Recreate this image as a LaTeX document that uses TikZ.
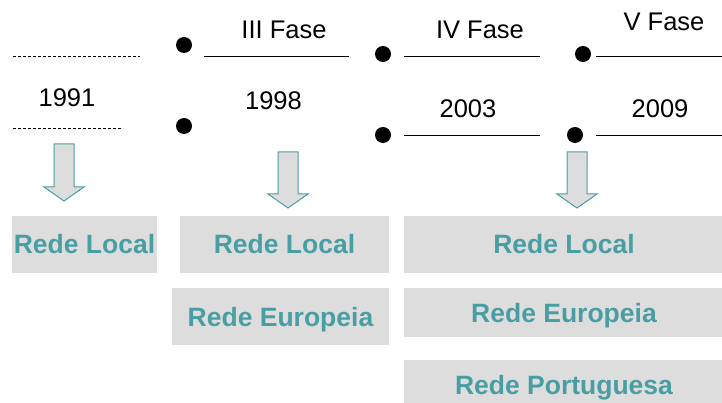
\documentclass[tikz,border=0pt]{standalone}
\usepackage{fontspec}
\setmainfont{Liberation Sans}
\definecolor{netteal}{RGB}{72,158,163}
\definecolor{netgray}{RGB}{221,221,221}

\begin{document}
\begin{tikzpicture}[x=1pt, y=-1pt,
  dot/.style={
  % The shape:
  circle,
  % The size:
  minimum size=16pt, inner sep=0pt,
  fill=black},
  phase/.style={font=\fontsize{25.5}{30}\selectfont, inner sep=0pt},
  netbox/.style={
  % The shape:
  rectangle, inner sep=0pt,
  % The size:
  minimum height=57pt, text height=19pt, text depth=0pt,
  % The look
  fill=netgray, text=netteal,
      font=\fontsize{26.5}{32}\selectfont\bfseries},
  downarrow/.style={draw=netteal, fill=netgray, line width=1pt}]
  \useasboundingbox (0,0) rectangle (722,403);
  \clip (0,0) rectangle (722,403);

  % timeline
  \draw [dash pattern=on 3pt off 2pt, line width=0.7pt] (13,56) -- (140,56);
  \draw [dash pattern=on 3pt off 2pt, line width=0.7pt] (13,128) -- (123,128);
  \node [phase] (y1991) at (67,97.5) {1991};

  \node [dot] (d3top) at (184,45) {};
  \node [dot] (d3bot) at (184,126) {};
  \draw [line width=1pt] (204,57) -- (349,57);
  \node [phase] (f3) at (284,29.5) {III Fase};
  \node [phase] (y1998) at (273.5,101) {1998};

  \node [dot] (d4top) at (383,54) {};
  \node [dot] (d4bot) at (383,135) {};
  \draw [line width=1pt] (404,57) -- (540,57);
  \draw [line width=1pt] (404,136) -- (540,136);
  \node [phase] (f4) at (480,30) {IV Fase};
  \node [phase] (y2003) at (468,109) {2003};

  \node [dot] (d5top) at (583,54) {};
  \node [dot] (d5bot) at (575,135) {};
  \draw [line width=1pt] (596,57) -- (722,57);
  \draw [line width=1pt] (596,136) -- (722,136);
  \node [phase] (f5) at (664,21.5) {V Fase};
  \node [phase] (y2009) at (660,109) {2009};

  % arrows
  \draw [downarrow] (54,144) -- (74,144) -- (74,187) -- (84,187) -- (64,201)
    -- (44,187) -- (54,187) -- cycle;
  \draw [downarrow] (278,152) -- (298,152) -- (298,194) -- (308,194) -- (288,208)
    -- (268,194) -- (278,194) -- cycle;
  \draw [downarrow] (567,152) -- (587,152) -- (587,194) -- (597,194) -- (577,208)
    -- (557,194) -- (567,194) -- cycle;

  % networks
  \node [netbox, minimum width=145pt] (local1) at (84.5,244.5) {Rede Local};
  \node [netbox, minimum width=209pt] (local2) at (284.5,244.5) {Rede Local};
  \node [netbox, minimum width=217pt] (euro2) at (280.5,316.5) {Rede Europeia};
  \node [netbox, minimum width=320pt] (local3) at (564,244.5) {Rede Local};
  \node [netbox, minimum width=320pt, minimum height=49pt] (euro3) at (564,312.5) {Rede Europeia};
  \node [netbox, minimum width=320pt, minimum height=49pt] (port3) at (564,384.5) {Rede Portuguesa};

\end{tikzpicture}
\end{document}
